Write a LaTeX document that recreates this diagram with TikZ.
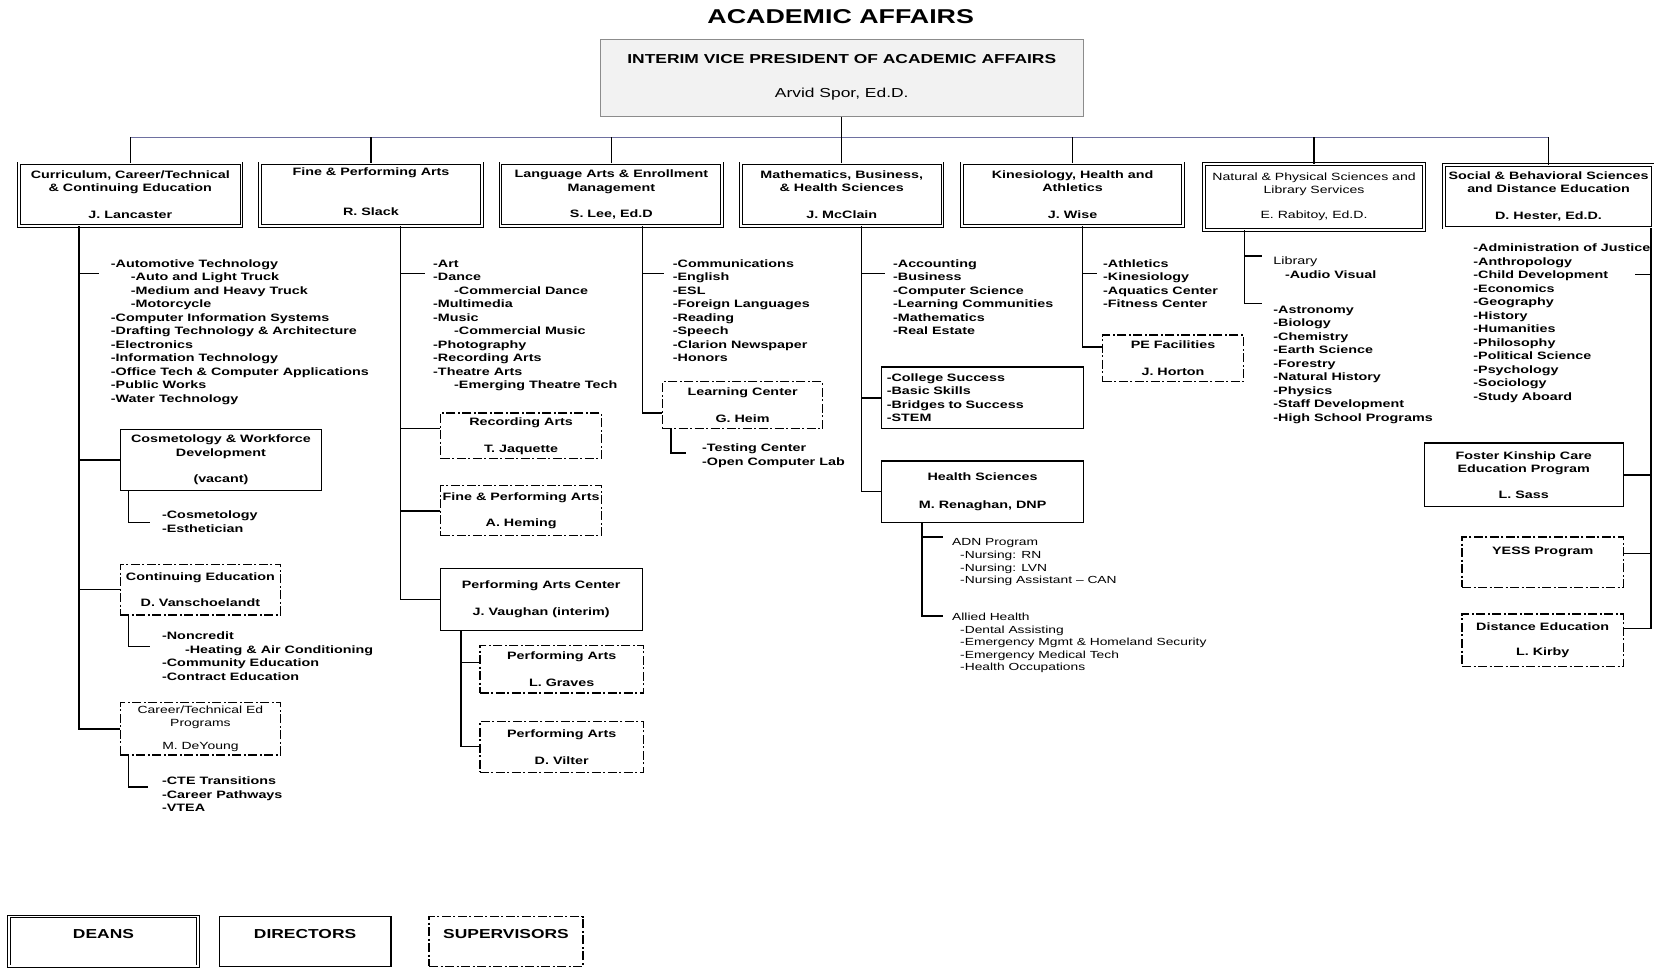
\documentclass[tikz,border=0pt]{standalone}
\usepackage{fontspec}
\setmainfont{Liberation Sans}[FakeStretch=1.34]

\newcommand{\listfont}{\fontsize{10.7}{13.5}\selectfont\bfseries}
\newcommand{\boxfont}{\fontsize{10.7}{13.5}\selectfont\bfseries}
\newcommand{\thinfont}{\fontsize{10.4}{12.6}\selectfont}
\definecolor{busline}{RGB}{110,112,160}

\begin{document}
\begin{tikzpicture}[x=1.0548pt, y=-1.0548pt,
    every node/.style={inner sep=0pt},
    boxsize/.style 2 args={minimum width=#1*1.0548pt, minimum height=#2*1.0548pt},
    deanbox/.style={draw, line width=0.9pt, double, double distance=1.6pt, align=center, font=\boxfont},
    dirbox/.style={draw, line width=1.1pt, align=center, font=\boxfont},
    supbox/.style={draw, line width=1.1pt, dash pattern=on 9pt off 2.5pt on 2pt off 2.5pt, align=center, font=\boxfont},
    items/.style={anchor=north west, align=left, font=\listfont},
    conn/.style={line width=1.3pt}]
  \useasboundingbox (0,0) rectangle (1568,917);

  % Title and vice president
  \node[font=\fontsize{20}{24}\selectfont\bfseries] (title) at (797,16) {ACADEMIC AFFAIRS};
  \node[draw=black!45, fill=black!5, line width=1pt, align=center, boxsize={458}{73},
        font=\fontsize{13}{16}\selectfont] (vp) at (798,73.5)
    {\textbf{INTERIM VICE PRESIDENT OF ACADEMIC AFFAIRS}\\[17.8pt]Arvid Spor, Ed.D.};

  % Deans
  \node[deanbox, boxsize={211}{59.5}] (cur) at (123.5,184.5)
    {Curriculum, Career/Technical\\\& Continuing  Education\\[13pt]J. Lancaster};
  \node[deanbox, boxsize={210.5}{59.5}] (fpa) at (351.7,184.5)
    {Fine \& Performing Arts\\[26pt]R. Slack\\[-8pt]\mbox{}};
  \node[deanbox, boxsize={210}{59.5}] (lang) at (579.6,184.5)
    {Language Arts \& Enrollment\\Management\\[13pt]S. Lee, Ed.D};
  \node[deanbox, boxsize={191}{59.5}] (math) at (798,184.5)
    {Mathematics, Business,\\\& Health Sciences\\[13pt]J. McClain};
  \node[deanbox, boxsize={209.6}{59.5}] (kin) at (1016.8,184.5)
    {Kinesiology, Health and\\Athletics\\[13pt]J. Wise};
  \node[deanbox, boxsize={208.5}{62.5}, font=\fontsize{10.5}{12.7}\selectfont] (nat) at (1245.7,186.7)
    {Natural \& Physical Sciences and\\Library Services\\[12pt]E. Rabitoy, Ed.D.};
  \node[deanbox, boxsize={198}{59.5}] (soc) at (1468,186.2)
    {Social \& Behavioral Sciences\\and Distance Education\\[13pt]D. Hester, Ed.D.};

  % Bus from the vice president to the deans
  \coordinate (bus) at (798,130);
  \draw[line width=0.9pt, busline] (cur.north |- bus) -- (soc.north |- bus);
  \draw[conn] (vp.south) -- (bus);
  \foreach \d in {cur,fpa,lang,math,kin,nat,soc}
    \draw[conn] (\d.north) -- (\d.north |- bus);

  % Curriculum, Career/Technical & Continuing Education
  \coordinate (sp1) at (75,0);
  \coordinate (sb1) at (121.5,0);
  \coordinate (t1) at (94,259);
  \node[items] (l1) at (105,246)
    {-Automotive Technology\\\hspace*{20pt}-Auto and Light Truck\\\hspace*{20pt}-Medium and Heavy Truck\\
     \hspace*{20pt}-Motorcycle\\-Computer Information Systems\\-Drafting Technology \& Architecture\\
     -Electronics\\-Information Technology\\-Office Tech \& Computer Applications\\-Public Works\\-Water Technology};
  \node[dirbox, boxsize={191}{58}] (cosm) at (209.5,436) {Cosmetology \& Workforce\\Development\\[13pt](vacant)};
  \node[items] (cosl) at (153.5,484) {-Cosmetology\\-Esthetician};
  \node[supbox, boxsize={152}{48}] (conted) at (190,559) {Continuing Education\\[13pt]D. Vanschoelandt};
  \node[items] (contl) at (153.5,599)
    {-Noncredit\\\hspace*{23pt}-Heating \& Air Conditioning\\-Community Education\\-Contract Education};
  \node[supbox, boxsize={152}{49.5}, font=\thinfont] (ctep) at (190,691) {Career/Technical Ed\\Programs\\[11pt]M. DeYoung};
  \node[items] (ctel) at (153.5,736.5) {-CTE Transitions\\-Career Pathways\\-VTEA};
  \coordinate (b1) at (142,495);
  \coordinate (b2) at (142,613);
  \coordinate (b3) at (140,746);
  \draw[conn] (cur.south -| sp1) -- (sp1 |- ctep.west) -- (ctep.west);
  \draw[conn] (sp1 |- t1) -- (t1);
  \draw[conn] (sp1 |- cosm.west) -- (cosm.west);
  \draw[conn] (sp1 |- conted.west) -- (conted.west);
  \draw[conn] (cosm.south -| sb1) -- (sb1 |- b1) -- (b1);
  \draw[conn] (conted.south -| sb1) -- (sb1 |- b2) -- (b2);
  \draw[conn] (ctep.south -| sb1) -- (sb1 |- b3) -- (b3);

  % Fine & Performing Arts
  \coordinate (sp2) at (380,0);
  \coordinate (sp2b) at (437,0);
  \coordinate (t2) at (403,259);
  \node[items] (l2) at (410.5,246)
    {-Art\\-Dance\\\hspace*{21pt}-Commercial Dance\\-Multimedia\\-Music\\\hspace*{21pt}-Commercial Music\\
     -Photography\\-Recording Arts\\-Theatre Arts\\\hspace*{21pt}-Emerging Theatre Tech};
  \node[supbox, boxsize={152}{43.5}] (rec) at (494,413.3) {Recording Arts\\[13.4pt]T. Jaquette};
  \node[supbox, boxsize={152}{47.5}] (fpa2) at (494,484.3) {Fine \& Performing Arts\\[13pt]A. Heming};
  \node[dirbox, boxsize={191.5}{59.5}] (pac) at (513,568.3) {Performing Arts Center\\[13pt]J. Vaughan (interim)};
  \node[supbox, boxsize={155}{45}] (pa1) at (532.5,634.5) {Performing Arts\\[13.4pt]L. Graves};
  \node[supbox, boxsize={155}{48}] (pa2) at (532.5,708) {Performing Arts\\[13.4pt]D. Vilter};
  \coordinate (recin) at ([yshift=7.7pt]rec.west);
  \coordinate (pa1in) at ([yshift=6.9pt]pa1.west);
  \draw[conn] (fpa.south -| sp2) -- (sp2 |- pac.west) -- (pac.west);
  \draw[conn] (sp2 |- t2) -- (t2);
  \draw[conn] (recin -| sp2) -- (recin);
  \draw[conn] (sp2 |- fpa2.west) -- (fpa2.west);
  \draw[conn] (pac.south -| sp2b) -- (sp2b |- pa2.west) -- (pa2.west);
  \draw[conn] (pa1in -| sp2b) -- (pa1in);

  % Language Arts & Enrollment Management
  \coordinate (sp3) at (609,0);
  \coordinate (sb3) at (636,0);
  \coordinate (t3) at (629,259);
  \node[items] (l3) at (637.7,246)
    {-Communications\\-English\\-ESL\\-Foreign Languages\\-Reading\\-Speech\\-Clarion Newspaper\\-Honors};
  \node[supbox, boxsize={151.5}{44.5}] (lc) at (704,384.3) {Learning Center\\[13.4pt]G. Heim};
  \node[items] (lcl) at (665.5,420.5) {-Testing Center\\-Open Computer Lab};
  \coordinate (lcin) at ([yshift=-7.6pt]lc.west);
  \coordinate (b4) at (650,429.5);
  \draw[conn] (lang.south -| sp3) -- (sp3 |- lcin) -- (lcin);
  \draw[conn] (sp3 |- t3) -- (t3);
  \draw[conn] (lc.south -| sb3) -- (sb3 |- b4) -- (b4);

  % Mathematics, Business, & Health Sciences
  \coordinate (sp4) at (817,0);
  \coordinate (sp4b) at (874,0);
  \coordinate (t4) at (839,259);
  \node[items] (l4) at (846.5,246)
    {-Accounting\\-Business\\-Computer Science\\-Learning Communities\\-Mathematics\\-Real Estate};
  \node[dirbox, boxsize={191}{58.5}, align=left, text width=191.5pt, inner xsep=5pt] (cs) at (931.5,377.2)
    {-College Success\\-Basic Skills\\-Bridges to Success\\-STEM};
  \node[dirbox, boxsize={191}{58}] (hs) at (931.5,466) {Health Sciences\\[15pt]M. Renaghan, DNP};
  \node[items, font=\fontsize{10.3}{12.66}\selectfont] (adn) at (902.5,510.5)
    {ADN Program\\\hspace*{8pt}-Nursing: RN\\\hspace*{8pt}-Nursing: LVN\\\hspace*{8pt}-Nursing Assistant \textendash{} CAN};
  \node[items, font=\fontsize{10.3}{12.5}\selectfont] (allied) at (902.5,581)
    {Allied Health\\\hspace*{8pt}-Dental Assisting\\\hspace*{8pt}-Emergency Mgmt \& Homeland Security\\
     \hspace*{8pt}-Emergency Medical Tech\\\hspace*{8pt}-Health Occupations};
  \coordinate (t5) at (894,509);
  \coordinate (t6) at (894,584);
  \draw[conn] (math.south -| sp4) -- (sp4 |- hs.west) -- (hs.west);
  \draw[conn] (sp4 |- t4) -- (t4);
  \draw[conn] (sp4 |- cs.west) -- (cs.west);
  \draw[conn] (hs.south -| sp4b) -- (sp4b |- t6) -- (t6);
  \draw[conn] (sp4b |- t5) -- (t5);

  % Kinesiology, Health and Athletics
  \coordinate (sp5) at (1026,0);
  \coordinate (t7) at (1040,259);
  \node[items] (l5) at (1045.6,245.6) {-Athletics\\-Kinesiology\\-Aquatics Center\\-Fitness Center};
  \node[supbox, boxsize={133}{44.4}] (pe) at (1112,339.8) {PE Facilities\\[13.4pt]J. Horton};
  \coordinate (pein) at ([yshift=11.4pt]pe.west);
  \draw[conn] (kin.south -| sp5) -- (sp5 |- pein) -- (pein);
  \draw[conn] (sp5 |- t7) -- (t7);

  % Natural & Physical Sciences and Library Services
  \coordinate (sp6) at (1179.5,0);
  \coordinate (t8) at (1196.5,242.7);
  \coordinate (t9) at (1196.5,288);
  \node[items] (lib) at (1207,243.5) {{\mdseries Library}\\\hspace*{11.6pt}-Audio Visual};
  \node[items] (l6) at (1207,290)
    {-Astronomy\\-Biology\\-Chemistry\\-Earth Science\\-Forestry\\-Natural History\\-Physics\\
     -Staff Development\\-High School Programs};
  \draw[conn] (nat.south -| sp6) -- (sp6 |- t9) -- (t9);
  \draw[conn] (sp6 |- t8) -- (t8);

  % Social & Behavioral Sciences and Distance Education
  \coordinate (sp7) at (1565,0);
  \coordinate (t10) at (1550,260);
  \node[items] (l7) at (1396.6,231)
    {-Administration of Justice\\-Anthropology\\-Child Development\\-Economics\\-Geography\\-History\\
     -Humanities\\-Philosophy\\-Political Science\\-Psychology\\-Sociology\\-Study Aboard};
  \node[dirbox, boxsize={189}{60.5}] (fk) at (1444.5,450.2) {Foster Kinship Care\\Education Program\\[12pt]L. Sass};
  \node[supbox, boxsize={153}{47.5}] (yess) at (1462.5,532.8) {YESS Program\\[9pt]\mbox{}};
  \node[supbox, boxsize={153}{49.5}] (de) at (1462.5,606.8) {Distance Education\\[12pt]L. Kirby};
  \coordinate (yin) at ([yshift=8.8pt]yess.east);
  \coordinate (dein) at ([yshift=11.9pt]de.east);
  \draw[conn] (soc.south -| sp7) -- (sp7 |- dein) -- (dein);
  \draw[conn] (sp7 |- t10) -- (t10);
  \draw[conn] (sp7 |- fk.east) -- (fk.east);
  \draw[conn] (sp7 |- yin) -- (yin);

  % Legend
  \node[deanbox, boxsize={179.2}{47}, font=\fontsize{13}{15.8}\selectfont\bfseries] (legd) at (98.1,892.5) {DEANS\\\mbox{}};
  \node[dirbox, boxsize={163}{47}, font=\fontsize{13}{15.8}\selectfont\bfseries] (legdir) at (289.2,892.5) {DIRECTORS\\\mbox{}};
  \node[supbox, boxsize={146}{47}, font=\fontsize{13}{15.8}\selectfont\bfseries] (legsup) at (479.7,892.5) {SUPERVISORS\\\mbox{}};
\end{tikzpicture}
\end{document}
